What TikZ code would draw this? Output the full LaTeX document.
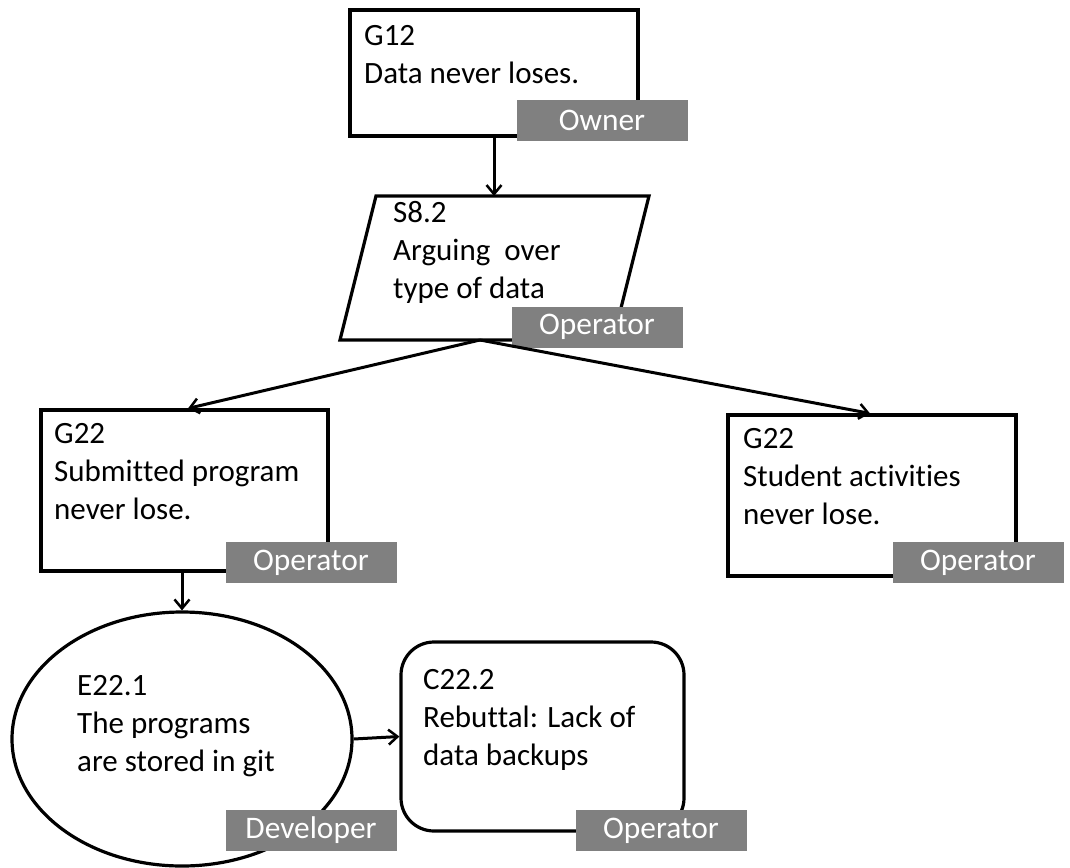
\documentclass[tikz,border=0pt]{standalone}
\usepackage{fontspec}
\setmainfont{Carlito}[Ligatures=NoCommon]
\usetikzlibrary{arrows.meta,shapes.geometric}
\definecolor{lblgray}{RGB}{128,128,128}
\begin{document}
\begin{tikzpicture}[x=1pt,y=-1pt,
  box/.style={draw=black,line width=3.2pt,inner sep=0pt,fill=white},
  txt/.style={font=\fontsize{31}{38}\selectfont,align=left,anchor=base west,inner sep=0pt},
  role/.style={fill=lblgray,text=white,font=\fontsize{31.4}{34}\selectfont,minimum width=171pt,minimum height=41pt,inner sep=0pt},
  conn/.style={line width=3pt,-{Straight Barb[length=9pt,width=15pt,line width=2.5pt]}}]
\useasboundingbox (0,0) rectangle (1070,867);
% shapes
\node[box,minimum width=288pt,minimum height=126pt] (G12) at (494,73) {};
\coordinate (Stl) at (376,196);
\coordinate (Str) at (649,196);
\coordinate (Sbr) at (613,340);
\coordinate (Sbl) at (340,340);
\draw[line width=3.2pt,line join=miter,fill=white] (Stl) -- (Str) -- (Sbr) -- (Sbl) -- cycle;
\coordinate (S82top) at (494,196);
\coordinate (S82bot) at (480,340);
\node[box,minimum width=287pt,minimum height=161pt] (G22L) at (184.5,490.5) {};
\node[box,minimum width=288pt,minimum height=161pt] (G22R) at (872,495.5) {};
\node[box,ellipse,minimum width=340pt,minimum height=254pt] (E221) at (182,739) {};
\node[box,rounded corners=33pt,minimum width=283pt,minimum height=189pt] (C222) at (542.5,736.5) {};
% texts (anchor = baseline of last line)
\node[txt] (tG12) at (364,83) {G12\\Data never loses.};
\node[txt] (tS82) at (393,298) {S8.2\\Arguing\ \ over\\type of data};
\node[txt] (tG22L) at (54,519) {G22\\Submit\kern0pt ted\ program\\never lose.};
\node[txt] (tG22R) at (743,524) {G22\\Student\ act\kern0pt ivit\kern0pt ies\\never lose.};
\node[txt] (tE221) at (77,771) {E22.1\\The programs\\are stored in git};
\node[txt] (tC222) at (423,765) {C22.2\\Rebut\kern0pt tal: Lack of\\data backups};
% role labels
\node[role] (rG12) at (602,120.5) {Owner};
\node[role] (rS82) at (597,327) {Operator};
\node[role] (rG22L) at (311,562.5) {Operator};
\node[role] (rG22R) at (978,562.5) {Operator};
\node[role] (rE221) at (311,830.5) {Developer};
\node[role] (rC222) at (661,830.5) {Operator};
% connectors
\draw[conn] (G12.south) -- (S82top);
\draw[conn] (S82bot) -- ([xshift=3.5pt]G22L.north);
\draw[conn] (S82bot) -- ([xshift=-2pt]G22R.north);
\draw[conn] (E221.north |- G22L.south) -- (E221.north);
\draw[conn] (E221.east) -- (C222.west);
\end{tikzpicture}
\end{document}
